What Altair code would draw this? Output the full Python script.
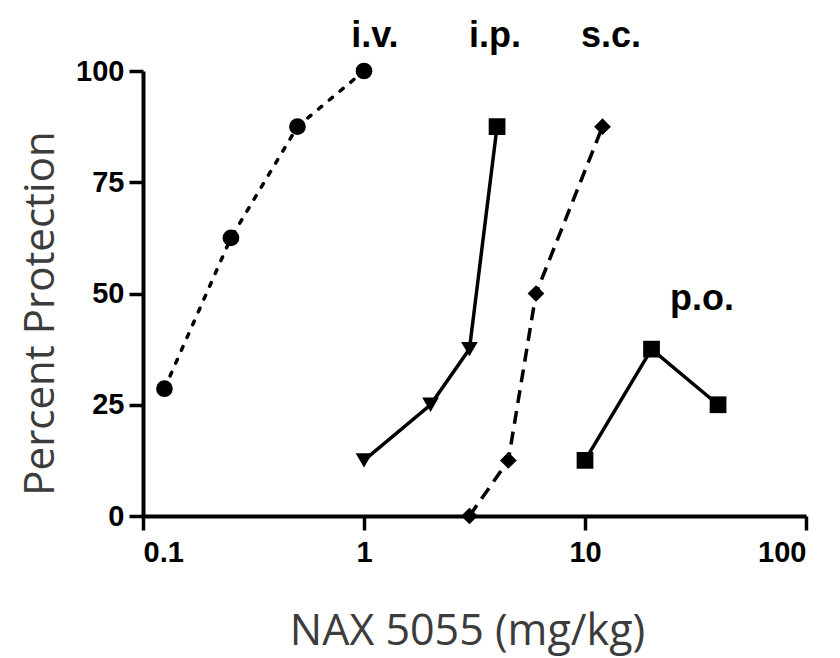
import altair as alt
import pandas as pd

# ---- data ----
iv_x = [0.125, 0.25, 0.5, 1.0]
iv_y = [28.6, 62.5, 87.5, 100.0]

ip_x = [1.0, 2.0, 3.0, 4.0]
ip_y = [12.5, 25.0, 37.5, 87.5]

sc_x = [3.0, 4.5, 6.0, 12.0]
sc_y = [0.0, 12.5, 50.0, 87.5]

po_x = [10.0, 20.0, 40.0]
po_y = [12.5, 37.5, 25.0]

label_text = ["i.v.", "i.p.", "s.c.", "p.o."]
label_x = [1.12, 3.92, 13.1, 33.8]
label_y = [105.4, 105.4, 105.4, 46.3]

x_ticks = [0.1, 1, 10, 100]
y_ticks = [0, 25, 50, 75, 100]

series = {
    "i.v.": (iv_x, iv_y, "circle"),
    "i.p.": (ip_x, ip_y, "triangle-down"),
    "s.c.": (sc_x, sc_y, "diamond"),
    "p.o.": (po_x, po_y, "square"),
}

rows = []
for name, (xs, ys, shp) in series.items():
    for i, (a, b) in enumerate(zip(xs, ys)):
        s = shp
        if name == "i.p." and i == len(xs) - 1:
            s = "square"
        rows.append({"series": name, "dose": a, "pct": b, "marker": s})
df = pd.DataFrame(rows)

lab = pd.DataFrame({"t": label_text, "x": label_x, "y": label_y})

TICKFONT = "Liberation Sans"
TITLEFONT = "Open Sans"

xscale = alt.Scale(type="log", domain=[0.1, 100])
yscale = alt.Scale(domain=[0, 100])

xenc = alt.X("dose:Q", scale=xscale, axis=alt.Axis(
    values=x_ticks, labelExpr="datum.value < 1 ? '0.1' : format(datum.value, 'd')",
    title="NAX 5055 (mg/kg)", grid=False,
    titleX=324, titleY=128, titleBaseline="alphabetic", titleAlign="center",
))
yenc = alt.Y("pct:Q", scale=yscale, axis=alt.Axis(
    values=y_ticks, title="Percent Protection", grid=False, titleFontSize=42,
    titleX=-90, titleY=242, titleAngle=-90, titleBaseline="alphabetic", titleAlign="center",
))

base = alt.Chart(df)

def line_layer(name, dash, cap="butt"):
    kw = dict(color="black", strokeWidth=3.5, strokeCap=cap)
    if dash:
        kw["strokeDash"] = dash
    return base.transform_filter(alt.datum.series == name).mark_line(**kw).encode(
        x=xenc, y=yenc, order="dose:Q")

lines = [
    line_layer("i.v.", [4, 10], "round"),
    line_layer("i.p.", None),
    line_layer("s.c.", [13, 8]),
    line_layer("p.o.", None),
]

points = base.mark_point(filled=True, color="black", opacity=1, size=280).encode(
    x=xenc, y=yenc,
    shape=alt.Shape("marker:N", scale=None, legend=None),
)

texts = alt.Chart(lab).mark_text(
    font=TICKFONT, fontWeight="bold", fontSize=36, color="black",
    align="center", baseline="alphabetic",
).encode(
    x=alt.X("x:Q", scale=xscale),
    y=alt.Y("y:Q", scale=yscale),
    text="t:N",
)

chart = alt.layer(*lines, points, texts).properties(
    width=663, height=445,
    autosize=alt.AutoSizeParams(type="none"),
    padding={"left": 135, "top": 63, "right": 26, "bottom": 142},
).configure_view(stroke=None).configure_axis(
    domainColor="black", domainWidth=4, tickColor="black", tickWidth=3.5, tickSize=14,
    labelFont=TICKFONT, labelFontWeight="bold", labelFontSize=29, labelColor="black",
    titleFont=TITLEFONT, titleFontWeight="normal", titleFontSize=43, titleColor="#3c3c3c",
).configure_axisX(labelPadding=8, labelBaseline="top").configure_axisY(labelPadding=5)

chart.save("out.html", embed_options={"renderer": "svg", "actions": False})
